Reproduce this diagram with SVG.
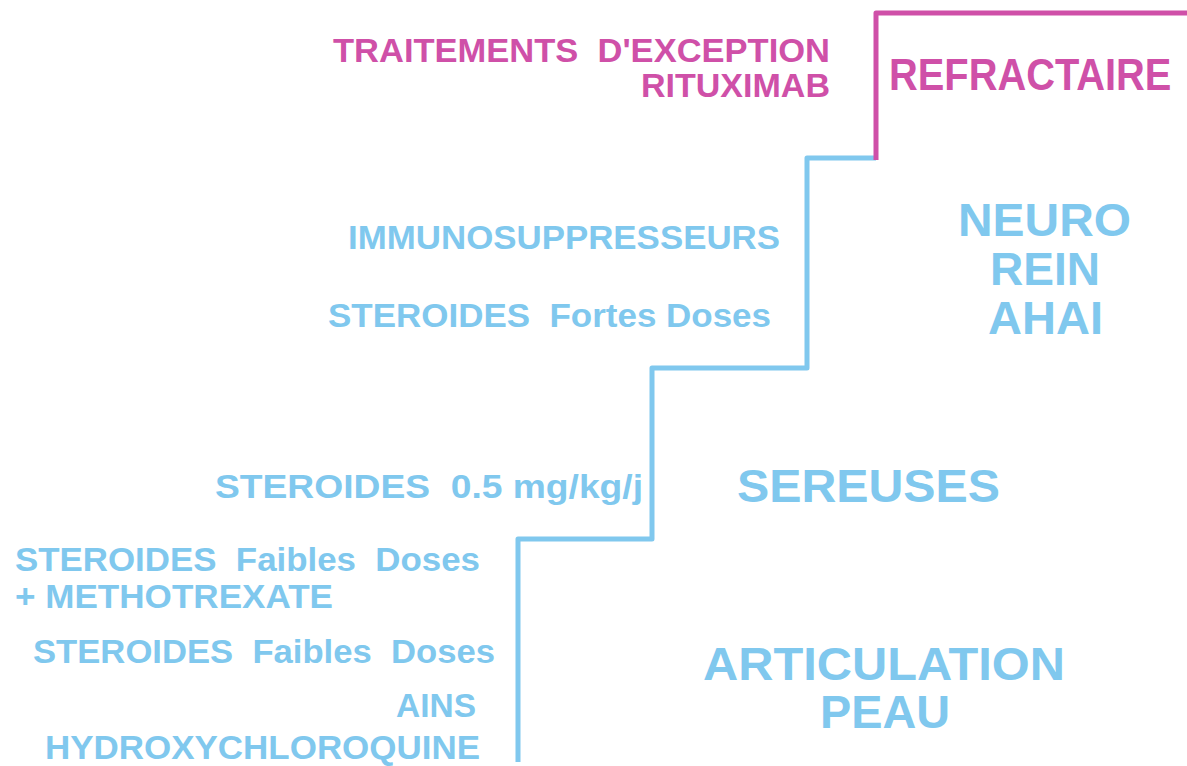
<svg xmlns="http://www.w3.org/2000/svg" width="1187" height="766" viewBox="0 0 1187 766">
<style>
text{font-family:"Liberation Sans",Arial,sans-serif;font-weight:bold;white-space:pre}
.b{fill:#80c8ee}
.m{fill:#cf50a8}
.s{font-size:34px}
.l{font-size:46px}
.r{font-size:45px}
.lineb{fill:none;stroke:#80c8ee;stroke-width:5;stroke-linejoin:round}
.linem{fill:none;stroke:#cf50a8;stroke-width:5;stroke-linejoin:round}
</style>
<rect width="1187" height="766" fill="#ffffff"/>
<g id="connectors">
<path class="lineb" d="M518,762 V539 H652 V368 H807 V158 H876"/>
<path class="linem" d="M876,160 V13 H1187"/>
</g>
<g id="refractaire">
<text class="m s" x="333" y="62" textLength="497" lengthAdjust="spacingAndGlyphs">TRAITEMENTS  D'EXCEPTION</text>
<text class="m s" x="641" y="97" textLength="189" lengthAdjust="spacingAndGlyphs">RITUXIMAB</text>
<text class="m r" transform="translate(889,90) scale(0.885,1)" x="0" y="0">REFRACTAIRE</text>
</g>
<g id="neuro">
<text class="b s" x="348" y="249" textLength="432" lengthAdjust="spacingAndGlyphs">IMMUNOSUPPRESSEURS</text>
<text class="b s" x="328" y="327" textLength="443" lengthAdjust="spacingAndGlyphs">STEROIDES  Fortes Doses</text>
<text class="b l" x="958" y="236" textLength="173" lengthAdjust="spacingAndGlyphs">NEURO</text>
<text class="b l" x="990" y="285" textLength="110" lengthAdjust="spacingAndGlyphs">REIN</text>
<text class="b l" x="988" y="334" textLength="115" lengthAdjust="spacingAndGlyphs">AHAI</text>
</g>
<g id="sereuses">
<text class="b s" x="215" y="498" textLength="428" lengthAdjust="spacingAndGlyphs">STEROIDES  0.5 mg/kg/j</text>
<text class="b l" x="737" y="502" textLength="263" lengthAdjust="spacingAndGlyphs">SEREUSES</text>
</g>
<g id="articulation">
<text class="b s" x="15" y="571" textLength="465" lengthAdjust="spacingAndGlyphs">STEROIDES  Faibles  Doses</text>
<text class="b s" x="15" y="608" textLength="318" lengthAdjust="spacingAndGlyphs">+ METHOTREXATE</text>
<text class="b s" x="33" y="663" textLength="462" lengthAdjust="spacingAndGlyphs">STEROIDES  Faibles  Doses</text>
<text class="b s" x="396" y="717" textLength="80" lengthAdjust="spacingAndGlyphs">AINS</text>
<text class="b s" x="45" y="759" textLength="435" lengthAdjust="spacingAndGlyphs">HYDROXYCHLOROQUINE</text>
<text class="b l" x="703" y="680" textLength="362" lengthAdjust="spacingAndGlyphs">ARTICULATION</text>
<text class="b l" x="820" y="728" textLength="130" lengthAdjust="spacingAndGlyphs">PEAU</text>
</g>
</svg>
